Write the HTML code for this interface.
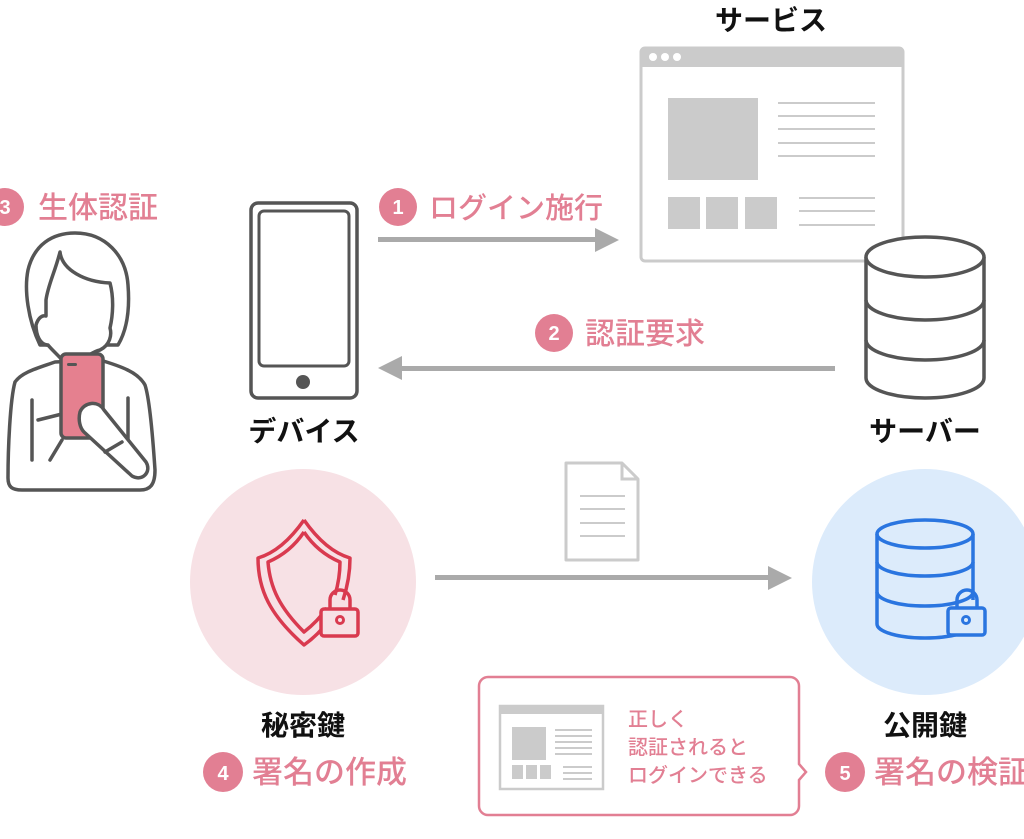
<!DOCTYPE html>
<html><head><meta charset="utf-8"><style>
html,body{margin:0;padding:0;background:#fff;}
svg{display:block;}
text{font-family:"Liberation Sans","Noto Sans CJK JP",sans-serif;}
.b{font-weight:bold;fill:#111;font-size:28px;}
.p{fill:#e27f93;font-size:28px;font-weight:500;}
.n{fill:#fff;font-size:20px;font-weight:bold;}
</style></head><body>
<svg width="1024" height="839" viewBox="0 0 1024 839" xmlns="http://www.w3.org/2000/svg">
<text x="771" y="30" class="b" text-anchor="middle">サービス</text>
<rect x="641" y="48" width="262" height="213" rx="4" fill="#fff" stroke="#cbcbcb" stroke-width="3"/>
<path d="M641 67 V52 a4 4 0 0 1 4-4 H899 a4 4 0 0 1 4 4 V67 Z" fill="#cbcbcb"/>
<circle cx="653" cy="57" r="4" fill="#fff"/><circle cx="665" cy="57" r="4" fill="#fff"/><circle cx="677" cy="57" r="4" fill="#fff"/>
<rect x="668" y="98" width="90" height="82" fill="#cbcbcb"/>
<g stroke="#cbcbcb" stroke-width="2">
<line x1="778" y1="103" x2="875" y2="103"/><line x1="778" y1="116" x2="875" y2="116"/><line x1="778" y1="129" x2="875" y2="129"/><line x1="778" y1="143" x2="875" y2="143"/><line x1="778" y1="156" x2="875" y2="156"/>
<line x1="799" y1="198" x2="875" y2="198"/><line x1="799" y1="211" x2="875" y2="211"/><line x1="799" y1="225" x2="875" y2="225"/>
</g>
<rect x="668" y="197" width="32" height="32" fill="#cbcbcb"/><rect x="706" y="197" width="32" height="32" fill="#cbcbcb"/><rect x="745" y="197" width="32" height="32" fill="#cbcbcb"/>
<g fill="#fff" stroke="#555" stroke-width="3.5">
<path d="M866 257 V378 a59 20 0 0 0 118 0 V257"/>
<ellipse cx="925" cy="257" rx="59" ry="20"/>
<path d="M866 300 a59 20 0 0 0 118 0" fill="none"/>
<path d="M866 340 a59 20 0 0 0 118 0" fill="none"/>
</g>
<text x="925" y="441" class="b" text-anchor="middle">サーバー</text>
<rect x="251" y="203" width="106" height="195" rx="7" fill="#fff" stroke="#555" stroke-width="3.5"/>
<rect x="259" y="211" width="90" height="155" rx="5" fill="none" stroke="#555" stroke-width="3"/>
<circle cx="303" cy="382" r="7" fill="#555"/>
<text x="304" y="441" class="b" text-anchor="middle">デバイス</text>
<g fill="#aaa"><rect x="378" y="237" width="218" height="5"/><path d="M595 228 L619 240 L595 252 Z"/>
<rect x="400" y="366" width="435" height="5"/><path d="M402 356 L378 368 L402 380 Z"/>
<rect x="435" y="575" width="335" height="5"/><path d="M768 566 L792 578 L768 590 Z"/></g>
<circle cx="398" cy="207" r="19" fill="#e27f93"/><text x="398" y="214" class="n" text-anchor="middle">1</text>
<text x="429" y="218" class="p" style="font-size:29px">ログイン施行</text>
<circle cx="554" cy="333" r="19" fill="#e27f93"/><text x="554" y="340" class="n" text-anchor="middle">2</text>
<text x="585" y="344" class="p" style="font-size:30px">認証要求</text>
<circle cx="5" cy="207" r="19" fill="#e27f93"/><text x="5" y="214" class="n" text-anchor="middle">3</text>
<text x="38" y="218" class="p" style="font-size:30px">生体認証</text>
<!-- Woman -->
<g fill="#fff" stroke="#555" stroke-width="3.5" stroke-linejoin="round" stroke-linecap="round">
<path d="M40 345 C28 320 24 290 28 270 C34 245 52 233 75 233 C105 233 126 255 128 285 C130 310 127 330 118 345 Z"/>
<path d="M55 362 C38 368 22 372 15 382 C10 400 8 450 8 478 C8 487 12 490 22 490 L140 490 C150 490 155 485 155 470 C153 440 150 400 145 385 C138 372 120 366 100 360 Z"/>
<path d="M60 252 C62 270 85 282 110 283 C114 298 113 315 110 328 C112 335 110 345 100 350 C92 352 85 358 80 362 L64 362 C58 355 52 350 48 345 C40 345 36 335 36 325 C38 318 42 315 46 316 L46 300 C48 285 55 272 60 252 Z"/>
<line x1="32" y1="400" x2="32" y2="460"/><line x1="128" y1="398" x2="128" y2="455"/>
<line x1="38" y1="420" x2="62" y2="414"/>
<line x1="50" y1="460" x2="62" y2="440"/>
</g>
<rect x="61" y="354" width="42" height="84" rx="5" fill="#e5808f" stroke="#555" stroke-width="3.5"/>
<rect x="67" y="363" width="10" height="3" rx="1.5" fill="#555"/>
<path d="M80 412 C84 402 98 400 104 410 L146 462 C152 472 142 482 132 476 L84 432 C80 428 78 420 80 412 Z" fill="#fff" stroke="#555" stroke-width="3.5" stroke-linejoin="round"/>
<line x1="105" y1="452" x2="122" y2="442" stroke="#555" stroke-width="3.5" stroke-linecap="round"/>
<circle cx="303" cy="582" r="113" fill="#f7e1e5"/>
<g fill="none" stroke="#d93a4f" stroke-width="3.5" stroke-linejoin="round">
<path d="M304 520 C290 540 275 553 258 558 C258 590 270 615 304 645 C318 635 326 625 334 612"/>
<path d="M304 520 C318 540 333 553 350 558 C350 575 347 588 343 600"/>
<path d="M304 532 C294 547 282 556 268 562 C270 588 280 608 304 632 C313 625 320 618 327 608"/>
<path d="M304 532 C314 547 326 556 340 562 C340 575 338 585 335 595"/>
<rect x="321" y="609" width="37" height="27" rx="3" fill="#f7e1e5"/>
<path d="M330 609 V600 a10 10 0 0 1 20 0 V609"/>
<circle cx="340" cy="620" r="3.5" stroke-width="3"/>
</g>
<text x="303" y="735" class="b" text-anchor="middle">秘密鍵</text>
<circle cx="223" cy="772" r="20" fill="#e27f93"/><text x="223" y="780" class="n" text-anchor="middle">4</text>
<text x="252" y="783" class="p" style="font-size:31px">署名の作成</text>
<path d="M566 463 H622 L638 479 V560 H566 Z" fill="#fff" stroke="#cbcbcb" stroke-width="3" stroke-linejoin="round"/>
<path d="M622 463 V479 H638" fill="none" stroke="#cbcbcb" stroke-width="3"/>
<g stroke="#cbcbcb" stroke-width="2"><line x1="580" y1="496" x2="625" y2="496"/><line x1="580" y1="509" x2="625" y2="509"/><line x1="580" y1="523" x2="625" y2="523"/><line x1="580" y1="536" x2="625" y2="536"/></g>
<circle cx="925" cy="582" r="113" fill="#dcebfb"/>
<g fill="none" stroke="#2a75e0" stroke-width="3.5">
<path d="M877 534 V624 a48 14 0 0 0 96 0"/>
<ellipse cx="925" cy="534" rx="48" ry="14"/>
<path d="M877 562 a48 14 0 0 0 96 0"/>
<path d="M877 592 a48 14 0 0 0 96 0"/>
<line x1="973" y1="534" x2="973" y2="600"/>
<rect x="948" y="608" width="37" height="27" rx="3" fill="#dcebfb"/>
<path d="M957 608 V600 a10 10 0 0 1 20 0 V608"/>
<circle cx="966" cy="620" r="3.5" stroke-width="3"/>
</g>
<text x="925" y="735" class="b" text-anchor="middle">公開鍵</text>
<circle cx="845" cy="772" r="20" fill="#e27f93"/><text x="845" y="780" class="n" text-anchor="middle">5</text>
<text x="874" y="783" class="p" style="font-size:31px">署名の検証</text>
<path d="M488 677 H790 a9 9 0 0 1 9 9 V764 L806 772 L799 780 V806 a9 9 0 0 1 -9 9 H488 a9 9 0 0 1 -9 -9 V686 a9 9 0 0 1 9 -9 Z" fill="#fff" stroke="#e27f93" stroke-width="2.5"/>
<rect x="500" y="706" width="103" height="83" fill="#fff" stroke="#cbcbcb" stroke-width="2.5"/>
<rect x="500" y="706" width="103" height="8" fill="#cbcbcb"/>
<rect x="512" y="727" width="34" height="33" fill="#cbcbcb"/>
<g stroke="#cbcbcb" stroke-width="2"><line x1="555" y1="730" x2="592" y2="730"/><line x1="555" y1="736" x2="592" y2="736"/><line x1="555" y1="742" x2="592" y2="742"/><line x1="555" y1="748" x2="592" y2="748"/><line x1="555" y1="754" x2="592" y2="754"/>
<line x1="563" y1="767" x2="592" y2="767"/><line x1="563" y1="773" x2="592" y2="773"/><line x1="563" y1="779" x2="592" y2="779"/></g>
<rect x="512" y="765" width="11" height="14" fill="#cbcbcb"/><rect x="526" y="765" width="11" height="14" fill="#cbcbcb"/><rect x="540" y="765" width="11" height="14" fill="#cbcbcb"/>
<text x="628" y="726" class="p" style="font-size:20px">正しく</text>
<text x="628" y="754" class="p" style="font-size:20px">認証されると</text>
<text x="628" y="782" class="p" style="font-size:20px">ログインできる</text>
</svg>
</body></html>
